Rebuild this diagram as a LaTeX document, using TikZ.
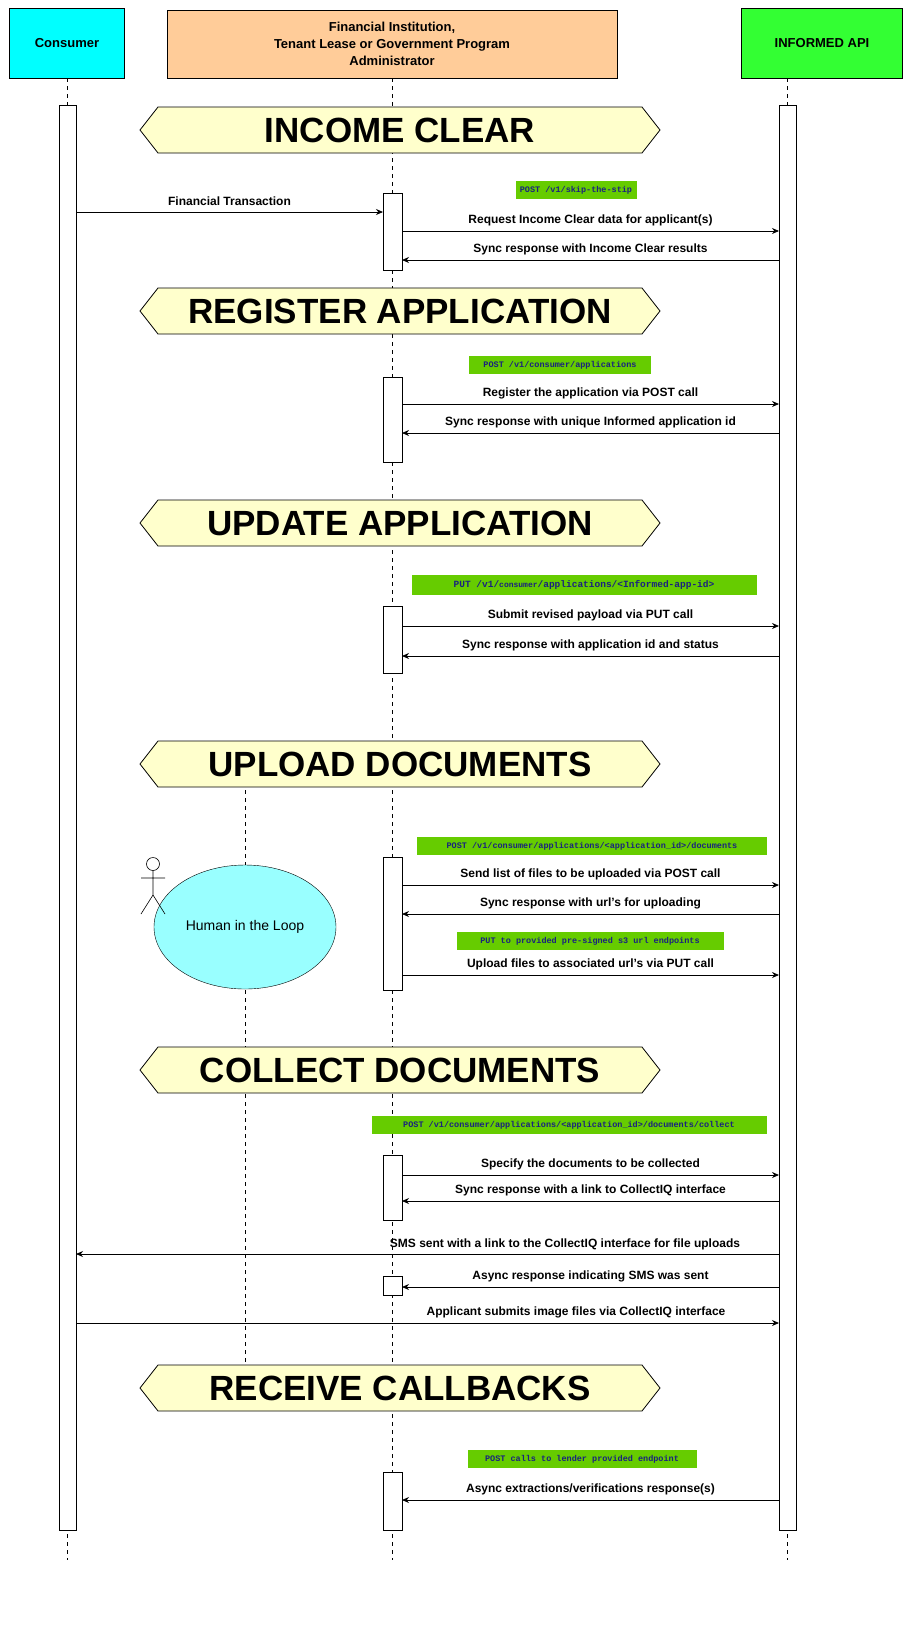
\documentclass[tikz,border=0pt]{standalone}
\usepackage{fontspec}
\setmainfont{Liberation Sans}
\setmonofont{Liberation Mono}
\usetikzlibrary{arrows.meta,shapes.geometric}
\definecolor{cyanbox}{HTML}{00FFFF}
\definecolor{orangebox}{HTML}{FFCC99}
\definecolor{greenbox}{HTML}{33FF33}
\definecolor{banner}{HTML}{FFFFCC}
\definecolor{tag}{HTML}{66CC00}
\definecolor{tagtext}{HTML}{1A237E}
\definecolor{human}{HTML}{99FFFF}
\tikzset{
 head/.style={draw,line width=0.8pt,align=center,font=\fontsize{13}{17}\selectfont\bfseries,inner sep=0pt},
 life/.style={dashed,line width=0.6pt,dash pattern=on 4pt off 4pt},
 actbar/.style={draw,fill=white,line width=0.7pt},
 msg/.style={line width=0.8pt,-{Stealth[length=7pt,width=6pt]}},
 lbl/.style={font=\fontsize{12}{14}\selectfont\bfseries},
 tagbox/.style={fill=tag,text=tagtext,font=\fontsize{8.5}{10}\ttfamily\bfseries,inner sep=0pt,minimum height=18pt},
 bannertxt/.style={font=\fontsize{35}{40}\selectfont\bfseries}
}
\newcommand{\bannerat}[3]{%
 \draw[fill=banner,line width=0.8pt] (140,#1) -- (158,#1-23) -- (642,#1-23) -- (660,#1) -- (642,#1+23) -- (158,#1+23) -- cycle;
 \node[bannertxt] (#3) at (400,#1) {#2};}
\begin{document}
\begin{tikzpicture}[x=1pt,y=-1pt]
\useasboundingbox (0,0) rectangle (909,1631);
% lifelines
\draw[life] (67,78) -- (67,1560);
\draw[life] (392,78) -- (392,1560);
\draw[life] (787,78) -- (787,1560);
\draw[life] (245,790) -- (245,1365);
% headers
\node[head,fill=cyanbox,minimum width=115pt,minimum height=70pt] (cons) at (67,43) {Consumer};
\node[head,fill=orangebox,minimum width=450pt,minimum height=68pt] (fin) at (392,44) {Financial Institution,\\Tenant Lease or Government Program\\Administrator};
\node[head,fill=greenbox,minimum width=161pt,minimum height=70pt] (api) at (822,43) {INFORMED API};
% long activation bars
\draw[actbar] (59,105) rectangle (76,1530);
\draw[actbar] (779,105) rectangle (796,1530);
% banners
\bannerat{130}{INCOME CLEAR}{b1}
\bannerat{311}{REGISTER APPLICATION}{b2}
\bannerat{523}{UPDATE APPLICATION}{b3}
\bannerat{764}{UPLOAD DOCUMENTS}{b4}
\bannerat{1070}{COLLECT DOCUMENTS}{b5}
\bannerat{1388}{RECEIVE CALLBACKS}{b6}
% middle activation bars
\foreach \a/\b in {193/270,377/462,606/673,857/990,1155/1220,1276/1295,1472/1530}
 \draw[actbar] (383,\a) rectangle (402,\b);
% human in the loop
\node[draw,fill=human,ellipse,minimum width=182pt,minimum height=124pt,font=\fontsize{14}{16}\selectfont] (hil) at (245,927) {Human in the Loop};
\draw[line width=0.6pt] (153,864) circle (6.5);
\draw[line width=0.6pt] (153,870.5) -- (153,895) (141,878) -- (165,878) (153,895) -- (141,914) (153,895) -- (165,914);
% messages
\newcommand{\msgR}[4]{\draw[msg] (#1,#3) -- (#2,#3); \node[lbl] at ({(#1+#2)/2},#3-11) {#4};}
\newcommand{\msgL}[4]{\draw[msg] (#2,#3) -- (#1,#3); \node[lbl] at ({(#1+#2)/2},#3-11) {#4};}
\newcommand{\tagat}[3]{\node[tagbox,minimum width=#2pt] at (#1) {#3};}
\msgR{76}{383}{212}{Financial Transaction}
\tagat{576,190}{121}{POST /v1/skip-the-stip}
\msgR{402}{779}{231}{Request Income Clear data for applicant(s)}
\msgL{402}{779}{260}{Sync response with Income Clear results}
\tagat{560,365}{182}{POST /v1/consumer/applications}
\msgR{402}{779}{404}{Register the application via POST call}
\msgL{402}{779}{433}{Sync response with unique Informed application id}
\node[tagbox,minimum width=345pt,minimum height=20pt,font=\fontsize{9.5}{11}\ttfamily\bfseries] at (584,585) {PUT /v1/{\fontsize{8}{10}\selectfont consumer}/applications/<Informed-app-id>};
\msgR{402}{779}{626}{Submit revised payload via PUT call}
\msgL{402}{779}{656}{Sync response with application id and status}
\tagat{592,846}{350}{POST /v1/consumer/applications/<application\_id>/documents}
\msgR{402}{779}{885}{Send list of files to be uploaded via POST call}
\msgL{402}{779}{914}{Sync response with url's for uploading}
\tagat{590,941}{267}{PUT to provided pre-signed s3 url endpoints}
\msgR{402}{779}{975}{Upload files to associated url's via PUT call}
\tagat{569,1125}{395}{POST /v1/consumer/applications/<application\_id>/documents/collect}
\msgR{402}{779}{1175}{Specify the documents to be collected}
\msgL{402}{779}{1201}{Sync response with a link to CollectIQ interface}
\draw[msg] (779,1254) -- (76,1254); \node[lbl] at (565,1244) {SMS sent with a link to the CollectIQ interface for file uploads};
\msgL{402}{779}{1287}{Async response indicating SMS was sent}
\draw[msg] (76,1323) -- (779,1323); \node[lbl] at (576,1312) {Applicant submits image files via CollectIQ interface};
\tagat{582,1459}{229}{POST calls to lender provided endpoint}
\msgL{402}{779}{1500}{Async extractions/verifications response(s)}
\end{tikzpicture}
\end{document}
